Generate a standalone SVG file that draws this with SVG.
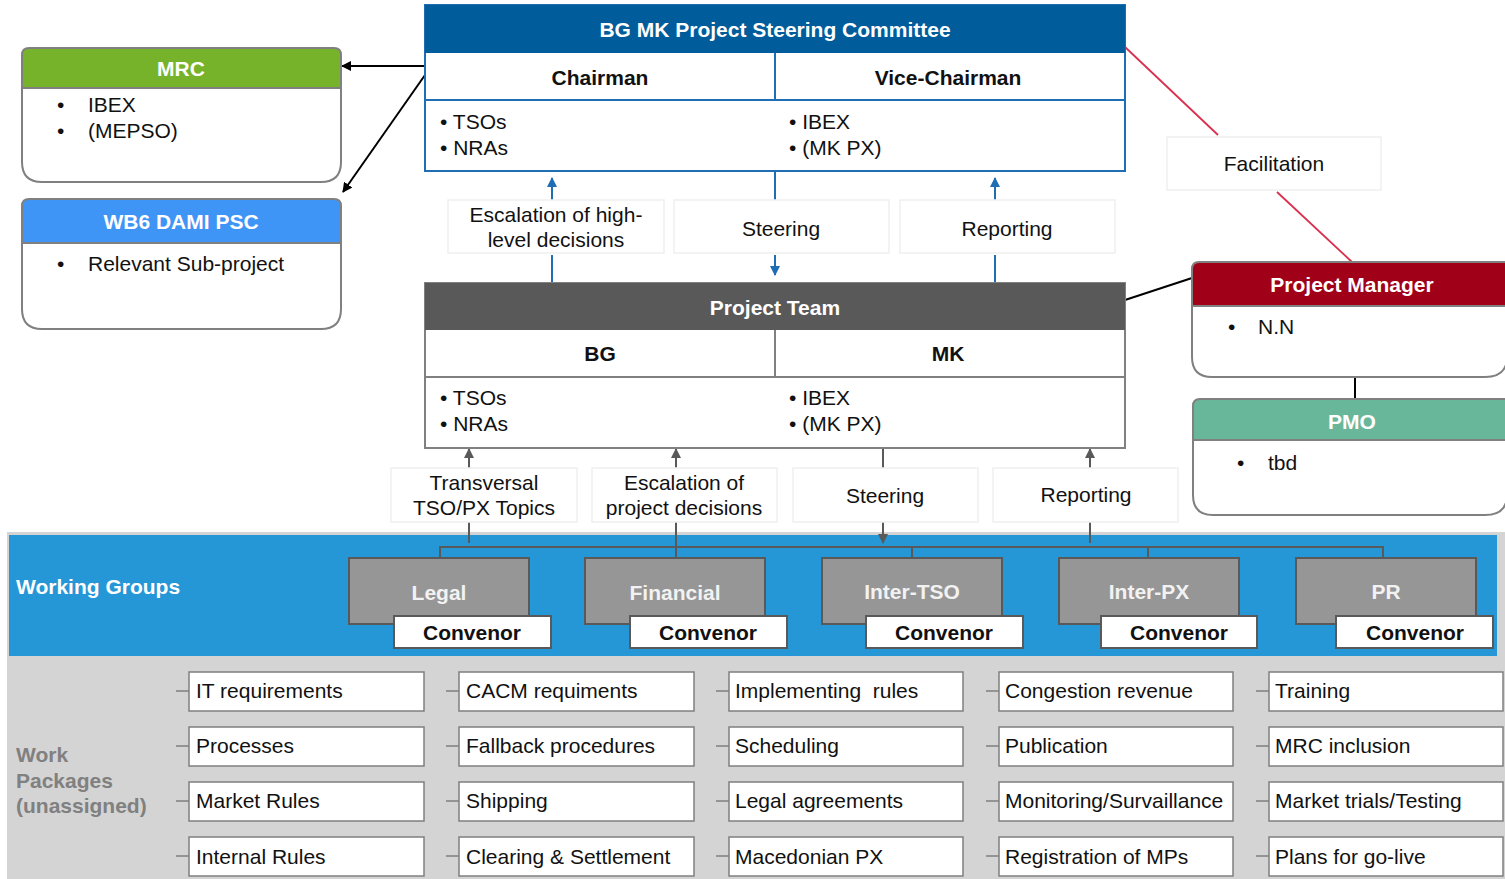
<svg xmlns="http://www.w3.org/2000/svg" width="1505" height="879" viewBox="0 0 1505 879">
<defs>
<marker id="ab" markerWidth="10" markerHeight="10" refX="9" refY="5" orient="auto" markerUnits="userSpaceOnUse"><path d="M0,0 L10,5 L0,10 Z" fill="#000"/></marker>
<marker id="au" markerWidth="10" markerHeight="10" refX="9" refY="5" orient="auto" markerUnits="userSpaceOnUse"><path d="M0,0 L10,5 L0,10 Z" fill="#1F6DB2"/></marker>
<marker id="ag" markerWidth="10" markerHeight="10" refX="9" refY="5" orient="auto" markerUnits="userSpaceOnUse"><path d="M0,0 L10,5 L0,10 Z" fill="#595959"/></marker>
<style>
text{font-family:"Liberation Sans",Arial,sans-serif;font-size:21px;fill:#111}
.b{font-weight:bold}
.w{fill:#fff}
.c{text-anchor:middle}
.wg{fill:#F2F2F2;font-weight:bold;text-anchor:middle}
.lbl{fill:#fff;stroke:#EFEFEF;stroke-width:1.5}
.box{fill:#fff;stroke:#808080;stroke-width:2}
.wgbox{fill:#969696;stroke:#595959;stroke-width:2}
.conv{fill:#fff;stroke:#595959;stroke-width:2}
.wp{fill:#fff;stroke:#7F7F7F;stroke-width:1.5}
.tick{stroke:#7F7F7F;stroke-width:1.5}
.bl{stroke:#1F6DB2;stroke-width:2;fill:none}
.gl{stroke:#595959;stroke-width:2;fill:none}
.red{stroke:#D9304F;stroke-width:1.8;fill:none}
.blk{stroke:#000;stroke-width:2;fill:none}
</style>
</defs>
<rect width="1505" height="879" fill="#fff"/>

<!-- bands -->
<g id="bands">
<rect x="7" y="532" width="1498" height="347" fill="#D4D4D4"/>
<rect x="9" y="535" width="1488" height="121" fill="#2596D6"/>
<text x="16" y="594" class="b w">Working Groups</text>
<text x="16" y="762" class="b" style="fill:#808080">Work</text>
<text x="16" y="788" class="b" style="fill:#808080">Packages</text>
<text x="16" y="813" class="b" style="fill:#808080">(unassigned)</text>
</g>

<!-- connectors -->
<g id="connectors">
<line x1="425" y1="66" x2="342" y2="66" class="blk" marker-end="url(#ab)"/>
<line x1="425" y1="75" x2="343" y2="192" class="blk" marker-end="url(#ab)"/>
<line x1="1125" y1="300" x2="1192" y2="278" class="blk"/>
<line x1="1355" y1="376" x2="1355" y2="399" class="blk"/>
<line x1="1125" y1="47" x2="1218" y2="135" class="red"/>
<line x1="1277" y1="192" x2="1352" y2="262" class="red"/>
<!-- upper blue -->
<line x1="552" y1="283" x2="552" y2="255" class="bl"/>
<line x1="552" y1="200" x2="552" y2="178" class="bl" marker-end="url(#au)"/>
<line x1="775" y1="171" x2="775" y2="200" class="bl"/>
<line x1="775" y1="255" x2="775" y2="275" class="bl" marker-end="url(#au)"/>
<line x1="995" y1="283" x2="995" y2="255" class="bl"/>
<line x1="995" y1="200" x2="995" y2="178" class="bl" marker-end="url(#au)"/>
<!-- lower gray -->
<line x1="469" y1="468" x2="469" y2="449" class="gl" marker-end="url(#ag)"/>
<line x1="469" y1="522" x2="469" y2="543" class="gl"/>
<line x1="676" y1="468" x2="676" y2="449" class="gl" marker-end="url(#ag)"/>
<line x1="676" y1="522" x2="676" y2="547" class="gl"/>
<line x1="883" y1="448" x2="883" y2="468" class="gl"/>
<line x1="883" y1="522" x2="883" y2="543" class="gl" marker-end="url(#ag)"/>
<line x1="1090" y1="468" x2="1090" y2="449" class="gl" marker-end="url(#ag)"/>
<line x1="1090" y1="522" x2="1090" y2="543" class="gl"/>
<path d="M440,558 V547 H1383 V558 M676,547 V558 M912,547 V558 M1148,547 V558" class="gl"/>
</g>

<!-- MRC -->
<g id="mrc">
<path d="M22,88 V55 Q22,48 29,48 H334 Q341,48 341,55 V88 Z" fill="#77B32A"/>
<path d="M22,55 Q22,48 29,48 H334 Q341,48 341,55 V162 Q341,182 321,182 H42 Q22,182 22,162 Z" fill="none" stroke="#808080" stroke-width="2"/>
<line x1="22" y1="88" x2="341" y2="88" stroke="#808080" stroke-width="2"/>
<text x="181" y="76" class="b w c">MRC</text>
<text x="57" y="112">•</text><text x="88" y="112">IBEX</text>
<text x="57" y="138">•</text><text x="88" y="138">(MEPSO)</text>
</g>

<!-- WB6 -->
<g id="wb6">
<path d="M22,243 V206 Q22,199 29,199 H334 Q341,199 341,206 V243 Z" fill="#3F95F6"/>
<path d="M22,206 Q22,199 29,199 H334 Q341,199 341,206 V309 Q341,329 321,329 H42 Q22,329 22,309 Z" fill="none" stroke="#808080" stroke-width="2"/>
<line x1="22" y1="243" x2="341" y2="243" stroke="#808080" stroke-width="2"/>
<text x="181" y="229" class="b w c">WB6 DAMI PSC</text>
<text x="57" y="271">•</text><text x="88" y="271">Relevant Sub-project</text>
</g>

<!-- Steering Committee -->
<g id="steering-committee">
<rect x="425" y="5" width="700" height="166" fill="#fff" stroke="#1F6DB2" stroke-width="2"/>
<rect x="425" y="5" width="700" height="48" fill="#005C9A"/>
<line x1="425" y1="100" x2="1125" y2="100" stroke="#1F6DB2" stroke-width="2"/>
<line x1="775" y1="53" x2="775" y2="100" stroke="#1F6DB2" stroke-width="2"/>
<text x="775" y="37" class="b w c">BG MK Project Steering Committee</text>
<text x="600" y="85" class="b c">Chairman</text>
<text x="948" y="85" class="b c">Vice-Chairman</text>
<text x="440" y="129">• TSOs</text>
<text x="440" y="155">• NRAs</text>
<text x="789" y="129">• IBEX</text>
<text x="789" y="155">• (MK PX)</text>
</g>

<!-- upper labels -->
<g id="upper-labels">
<rect x="448" y="200" width="216" height="53" class="lbl"/>
<text x="556" y="222" class="c">Escalation of high-</text>
<text x="556" y="247" class="c">level decisions</text>
<rect x="674" y="200" width="215" height="53" class="lbl"/>
<text x="781" y="236" class="c">Steering</text>
<rect x="900" y="200" width="215" height="53" class="lbl"/>
<text x="1007" y="236" class="c">Reporting</text>
</g>

<!-- Facilitation -->
<g id="facilitation">
<rect x="1167" y="137" width="214" height="53" class="lbl"/>
<text x="1274" y="171" class="c">Facilitation</text>
</g>

<!-- Project Team -->
<g id="project-team">
<rect x="425" y="283" width="700" height="165" fill="#fff" stroke="#808080" stroke-width="2"/>
<rect x="425" y="283" width="700" height="47" fill="#595959"/>
<line x1="425" y1="377" x2="1125" y2="377" stroke="#808080" stroke-width="2"/>
<line x1="775" y1="330" x2="775" y2="377" stroke="#808080" stroke-width="2"/>
<text x="775" y="315" class="b w c">Project Team</text>
<text x="600" y="361" class="b c">BG</text>
<text x="948" y="361" class="b c">MK</text>
<text x="440" y="405">• TSOs</text>
<text x="440" y="431">• NRAs</text>
<text x="789" y="405">• IBEX</text>
<text x="789" y="431">• (MK PX)</text>
</g>

<!-- Project Manager -->
<g id="project-manager">
<path d="M1192,306 V269 Q1192,262 1199,262 H1515 V306 Z" fill="#A00018"/>
<path d="M1192,269 Q1192,262 1199,262 H1515 M1192,269 V357 Q1192,377 1212,377 H1485 Q1505,377 1507,360" fill="none" stroke="#808080" stroke-width="2"/>
<line x1="1192" y1="306" x2="1505" y2="306" stroke="#808080" stroke-width="2"/>
<text x="1352" y="292" class="b w c">Project Manager</text>
<text x="1228" y="334">•</text><text x="1258" y="334">N.N</text>
</g>

<!-- PMO -->
<g id="pmo">
<path d="M1193,440 V406 Q1193,399 1200,399 H1515 V440 Z" fill="#69B79A"/>
<path d="M1193,406 Q1193,399 1200,399 H1515 M1193,406 V495 Q1193,515 1213,515 H1485 Q1505,515 1507,498" fill="none" stroke="#808080" stroke-width="2"/>
<line x1="1193" y1="440" x2="1505" y2="440" stroke="#808080" stroke-width="2"/>
<text x="1352" y="429" class="b w c">PMO</text>
<text x="1237" y="470">•</text><text x="1268" y="470">tbd</text>
</g>

<!-- lower labels -->
<g id="lower-labels">
<rect x="391" y="468" width="186" height="54" class="lbl"/>
<text x="484" y="490" class="c">Transversal</text>
<text x="484" y="515" class="c">TSO/PX Topics</text>
<rect x="592" y="468" width="185" height="54" class="lbl"/>
<text x="684" y="490" class="c">Escalation of</text>
<text x="684" y="515" class="c">project decisions</text>
<rect x="793" y="468" width="185" height="54" class="lbl"/>
<text x="885" y="503" class="c">Steering</text>
<rect x="993" y="468" width="185" height="54" class="lbl"/>
<text x="1086" y="502" class="c">Reporting</text>
</g>

<!-- Working groups -->
<g id="wg-legal">
<rect x="349" y="558" width="180" height="66" class="wgbox"/>
<text x="439" y="600" class="wg">Legal</text>
<rect x="394" y="616" width="157" height="32" class="conv"/>
<text x="472" y="640" class="b c">Convenor</text>
</g>
<g id="wg-financial">
<rect x="585" y="558" width="180" height="66" class="wgbox"/>
<text x="675" y="600" class="wg">Financial</text>
<rect x="630" y="616" width="157" height="32" class="conv"/>
<text x="708" y="640" class="b c">Convenor</text>
</g>
<g id="wg-intertso">
<rect x="822" y="558" width="180" height="66" class="wgbox"/>
<text x="912" y="599" class="wg">Inter-TSO</text>
<rect x="866" y="616" width="157" height="32" class="conv"/>
<text x="944" y="640" class="b c">Convenor</text>
</g>
<g id="wg-interpx">
<rect x="1059" y="558" width="180" height="66" class="wgbox"/>
<text x="1149" y="599" class="wg">Inter-PX</text>
<rect x="1101" y="616" width="156" height="32" class="conv"/>
<text x="1179" y="640" class="b c">Convenor</text>
</g>
<g id="wg-pr">
<rect x="1296" y="558" width="180" height="66" class="wgbox"/>
<text x="1386" y="599" class="wg">PR</text>
<rect x="1336" y="616" width="157" height="32" class="conv"/>
<text x="1415" y="640" class="b c">Convenor</text>
</g>

<!-- Work packages -->
<g id="wp-col1">
<line x1="176" y1="691" x2="189" y2="691" class="tick"/><rect x="189" y="672" width="235" height="39" class="wp"/><text x="196" y="698">IT requirements</text>
<line x1="176" y1="746" x2="189" y2="746" class="tick"/><rect x="189" y="727" width="235" height="39" class="wp"/><text x="196" y="753">Processes</text>
<line x1="176" y1="801" x2="189" y2="801" class="tick"/><rect x="189" y="782" width="235" height="39" class="wp"/><text x="196" y="808">Market Rules</text>
<line x1="176" y1="856" x2="189" y2="856" class="tick"/><rect x="189" y="837" width="235" height="39" class="wp"/><text x="196" y="864">Internal Rules</text>
</g>
<g id="wp-col2">
<line x1="446" y1="691" x2="459" y2="691" class="tick"/><rect x="459" y="672" width="235" height="39" class="wp"/><text x="466" y="698">CACM requiments</text>
<line x1="446" y1="746" x2="459" y2="746" class="tick"/><rect x="459" y="727" width="235" height="39" class="wp"/><text x="466" y="753">Fallback procedures</text>
<line x1="446" y1="801" x2="459" y2="801" class="tick"/><rect x="459" y="782" width="235" height="39" class="wp"/><text x="466" y="808">Shipping</text>
<line x1="446" y1="856" x2="459" y2="856" class="tick"/><rect x="459" y="837" width="235" height="39" class="wp"/><text x="466" y="864">Clearing &amp; Settlement</text>
</g>
<g id="wp-col3">
<line x1="716" y1="691" x2="729" y2="691" class="tick"/><rect x="729" y="672" width="234" height="39" class="wp"/><text x="735" y="698" xml:space="preserve">Implementing  rules</text>
<line x1="716" y1="746" x2="729" y2="746" class="tick"/><rect x="729" y="727" width="234" height="39" class="wp"/><text x="735" y="753">Scheduling</text>
<line x1="716" y1="801" x2="729" y2="801" class="tick"/><rect x="729" y="782" width="234" height="39" class="wp"/><text x="735" y="808">Legal agreements</text>
<line x1="716" y1="856" x2="729" y2="856" class="tick"/><rect x="729" y="837" width="234" height="39" class="wp"/><text x="735" y="864">Macedonian PX</text>
</g>
<g id="wp-col4">
<line x1="986" y1="691" x2="999" y2="691" class="tick"/><rect x="999" y="672" width="234" height="39" class="wp"/><text x="1005" y="698">Congestion revenue</text>
<line x1="986" y1="746" x2="999" y2="746" class="tick"/><rect x="999" y="727" width="234" height="39" class="wp"/><text x="1005" y="753">Publication</text>
<line x1="986" y1="801" x2="999" y2="801" class="tick"/><rect x="999" y="782" width="234" height="39" class="wp"/><text x="1005" y="808">Monitoring/Survaillance</text>
<line x1="986" y1="856" x2="999" y2="856" class="tick"/><rect x="999" y="837" width="234" height="39" class="wp"/><text x="1005" y="864">Registration of MPs</text>
</g>
<g id="wp-col5">
<line x1="1256" y1="691" x2="1269" y2="691" class="tick"/><rect x="1269" y="672" width="234" height="39" class="wp"/><text x="1275" y="698">Training</text>
<line x1="1256" y1="746" x2="1269" y2="746" class="tick"/><rect x="1269" y="727" width="234" height="39" class="wp"/><text x="1275" y="753">MRC inclusion</text>
<line x1="1256" y1="801" x2="1269" y2="801" class="tick"/><rect x="1269" y="782" width="234" height="39" class="wp"/><text x="1275" y="808">Market trials/Testing</text>
<line x1="1256" y1="856" x2="1269" y2="856" class="tick"/><rect x="1269" y="837" width="234" height="39" class="wp"/><text x="1275" y="864">Plans for go-live</text>
</g>
</svg>
